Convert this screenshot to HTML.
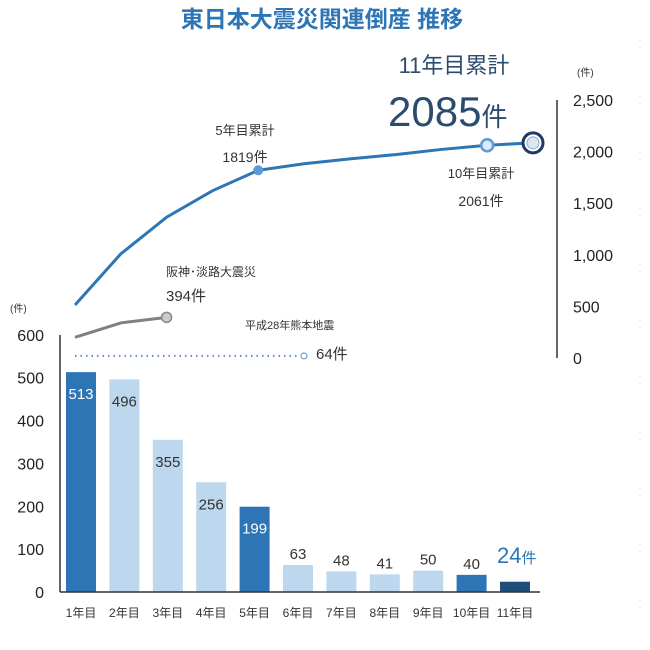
<!DOCTYPE html>
<html><head><meta charset="utf-8"><style>
body{margin:0;background:#fff;width:650px;height:645px;overflow:hidden;font-family:"Liberation Sans","Noto Sans CJK JP",sans-serif}
svg text{font-family:"Liberation Sans","Noto Sans CJK JP",sans-serif}
</style></head><body>
<svg id="c" width="650" height="645">
<text x="322" y="27" text-anchor="middle" font-size="23" font-weight="bold" fill="#2e75b6">東日本大震災関連倒産  推移</text>
<text x="454" y="73" text-anchor="middle" font-size="22" fill="#2b4b6f">11年目累計</text>
<text x="388" y="126" font-size="42" fill="#2b4b6f">2085<tspan font-size="26">件</tspan></text>
<text x="245" y="135" text-anchor="middle" font-size="13" fill="#333">5年目累計</text>
<text x="245" y="162" text-anchor="middle" font-size="14" fill="#333">1819件</text>
<text x="481" y="178" text-anchor="middle" font-size="13" fill="#333">10年目累計</text>
<text x="481" y="206" text-anchor="middle" font-size="14" fill="#333">2061件</text>
<text x="166" y="276" font-size="12" fill="#333">阪神･淡路大震災</text>
<text x="166" y="301" font-size="15" fill="#333">394件</text>
<text x="245" y="329" font-size="11" fill="#333">平成28年熊本地震</text>
<text x="316" y="359" font-size="15" fill="#333">64件</text>
<text x="577" y="76" font-size="10" fill="#333">(件)</text>
<text x="10" y="312" font-size="10" fill="#333">(件)</text>
<line x1="640" y1="40" x2="640" y2="645" stroke="#ddd" stroke-dasharray="1,6"/>
<g id="g"></g>
</svg>
<script>
const categories=["1年目","2年目","3年目","4年目","5年目","6年目","7年目","8年目","9年目","10年目","11年目"];
const annualValues=[513,496,355,256,199,63,48,41,50,40,24];
const cumulativeValues=[513,1009,1364,1620,1819,1882,1930,1971,2021,2061,2085];
const hanshinValues=[200,340,394];
const kumamotoValues=[20,20,20,20,20,20];
const leftTicks=[0,100,200,300,400,500,600];
const rightTicks=[0,500,1000,1500,2000,2500];
const barColors=["#2e75b6","#bdd7ee","#bdd7ee","#bdd7ee","#2e75b6","#bdd7ee","#bdd7ee","#bdd7ee","#bdd7ee","#2e75b6","#1f4e79"];
const NS="http://www.w3.org/2000/svg",g=document.getElementById('g');
function el(t,a,txt){const e=document.createElementNS(NS,t);for(const k in a)e.setAttribute(k,a[k]);if(txt!=null)e.textContent=txt;g.appendChild(e);return e;}
const yL=v=>592-v*0.4286, xB=i=>81+i*43.4;
const yR=v=>358-v*0.1032, xL=i=>75+i*45.8;
let e;
leftTicks.forEach(t=>{e=el('text',{x:44,y:yL(t)+6,'text-anchor':'end','font-size':16,fill:'#222'},t);

});
e=el('line',{x1:60,y1:335,x2:60,y2:592,stroke:'#333','stroke-width':1.5});


annualValues.forEach((v,i)=>{
 e=el('rect',{x:xB(i)-15,y:yL(v),width:30,height:592-yL(v),fill:barColors[i]});
 
 
 const inside=v>150, dark=barColors[i]=="#2e75b6";
 if(i==10){e=el('text',{x:xB(i)-18,y:563,'font-size':22,fill:'#2e75b6'});e.innerHTML=v+'<tspan font-size="15">件</tspan>';}
 else e=el('text',{x:xB(i),y:inside?yL(v)+27:yL(v)-6,'text-anchor':'middle','font-size':15,fill:dark&&inside?'#fff':'#333'},v);
 
 
 e=el('text',{x:xB(i),y:617,'text-anchor':'middle','font-size':12,fill:'#333'},categories[i]);
 
 
});
e=el('line',{x1:60,y1:592,x2:540,y2:592,stroke:'#333','stroke-width':1.5});


rightTicks.forEach(t=>{e=el('text',{x:573,y:yR(t)+6,'font-size':16,fill:'#222'},t.toLocaleString('en-US'));

});
e=el('line',{x1:557,y1:100,x2:557,y2:358,stroke:'#333','stroke-width':1.5});


e=el('polyline',{points:cumulativeValues.map((v,i)=>xL(i)+','+yR(v)).join(' '),fill:'none',stroke:'#2e75b6','stroke-width':3});


e=el('circle',{cx:xL(4),cy:yR(cumulativeValues[4]),r:5,fill:'#5b9bd5'});


e=el('circle',{cx:xL(9),cy:yR(cumulativeValues[9]),r:6,fill:'#deebf7',stroke:'#5b9bd5','stroke-width':2.5});


e=el('circle',{cx:xL(10),cy:yR(cumulativeValues[10]),r:10,fill:'#fff',stroke:'#1f3864','stroke-width':3});


e=el('circle',{cx:xL(10),cy:yR(cumulativeValues[10]),r:6,fill:'#dde6f3',stroke:'#8fa9cf','stroke-width':1});


e=el('polyline',{points:hanshinValues.map((v,i)=>xL(i)+','+yR(v)).join(' '),fill:'none',stroke:'#808080','stroke-width':3});


e=el('circle',{cx:xL(2),cy:yR(hanshinValues[2]),r:5,fill:'#ccc',stroke:'#888','stroke-width':1.5});


e=el('polyline',{points:kumamotoValues.map((v,i)=>xL(i)+','+yR(v)).join(' '),fill:'none',stroke:'#5b8bc9','stroke-width':2,'stroke-dasharray':'1.5,4'});


e=el('circle',{cx:xL(5),cy:yR(kumamotoValues[5]),r:3,fill:'#fff',stroke:'#5b8bc9','stroke-width':1});


</script>
</body></html>
